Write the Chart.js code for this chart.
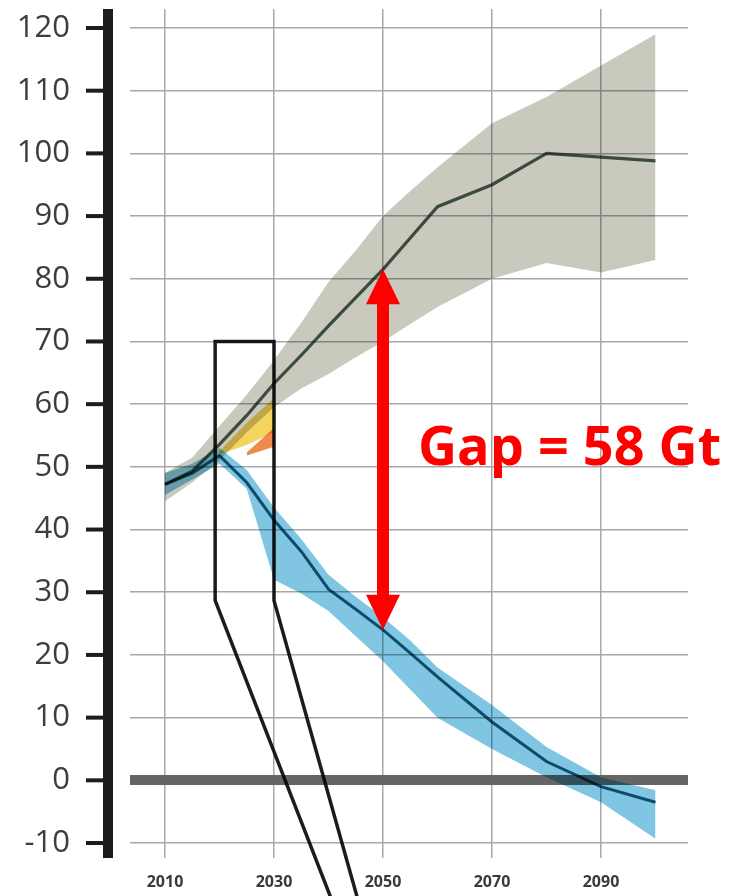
<!DOCTYPE html>
<html>
<head>
<meta charset="utf-8">
<script src="https://cdn.jsdelivr.net/npm/chart.js@4.4.1/dist/chart.umd.min.js"></script>
<style>
  html, body { margin: 0; padding: 0; background: #fff; }
  canvas { display: block; }
</style>
</head>
<body>
<canvas id="gapChart" width="731" height="896"></canvas>
<script>
// years of the scenario points
const years = [2010, 2015, 2020, 2025, 2030, 2035, 2040, 2045, 2050, 2055, 2060, 2070, 2080, 2090, 2100];
// baseline emissions (Gt): median and range
const baseMid  = [47.2, 49.3, 53.6, 58.2, 63.3, 67.8, 72.5, 77, 81.5, 86.5, 91.5, 95, 100, 99.4, 98.8];
const baseHigh = [49, 51.5, 56.5, 61.5, 67, 73, 79.5, 84.5, 90, 94, 97.8, 104.8, 109, 114, 119];
const baseLow  = [44.5, 47.5, 51, 55.5, 59.5, 62.5, 64.8, 67.5, 70, 72.8, 75.5, 80, 82.5, 81, 83];
// low emission pathway: median and range
const pathMid  = [47.2, 49, 51.8, 47.5, 41.5, 36.5, 30.5, 27.3, 24, 20.3, 16.5, 9.3, 3, -1, -3.5];
const pathHigh = [49, 50.5, 53, 49.5, 43.5, 38.5, 32.8, 29.3, 26, 22.3, 18, 12, 5.3, 0.5, -1.6];
const pathLow  = [45.5, 48, 50.5, 46.5, 32, 29.8, 27, 23, 19, 14.5, 10, 5, 0.5, -3.5, -9.3];
// pledge wedges
const pledgeYears = [2020, 2025, 2030];
const pledgeHigh = [52.5, 57, 61];
const pledgeLow  = [52, 53.5, 55.5];
const condYears = [2025, 2030];
const condHigh = [52.3, 56.2];
const condLow  = [51.8, 53.2];
// zoom box and its leader lines
const boxYears = [2019.2, 2030];
const boxRange = [28.7, 70];
const leaderEnd = [2041, 2045.7];
const leaderBottom = -20;
// gap annotation
const gapYear = 2050;
const gapLabel = 'Gap = 58 Gt';
// tick labels
const xTicks = [2010, 2030, 2050, 2070, 2090];
const yTicks = [-10, 0, 10, 20, 30, 40, 50, 60, 70, 80, 90, 100, 110, 120];

const pts = (xs, ys) => xs.map((x, i) => ({x: x, y: ys[i]}));

const boxPath = [
	{x: leaderEnd[0], y: leaderBottom},
	{x: boxYears[0], y: boxRange[0]},
	{x: boxYears[0], y: boxRange[1]},
	{x: boxYears[1], y: boxRange[1]},
	{x: boxYears[1], y: boxRange[0]},
	{x: leaderEnd[1], y: leaderBottom}
];

// bands are multiplied over the grid, like the printed figure
const multiply = {
	id: 'multiply',
	beforeDatasetsDraw(chart) {
		chart.ctx.save();
		chart.ctx.globalCompositeOperation = 'multiply';
	},
	afterDatasetsDraw(chart) {
		chart.ctx.restore();
	}
};

const overlay = {
	id: 'overlay',
	afterDraw(chart) {
		const ctx = chart.ctx;
		const a = chart.chartArea;
		const x = chart.scales.x;
		const y = chart.scales.y;
		ctx.save();
		// thick left axis with tick marks
		ctx.fillStyle = '#1d1d1d';
		ctx.fillRect(a.left - 27, a.top, 10, a.bottom - a.top);
		yTicks.forEach(v => {
			const py = y.getPixelForValue(v);
			ctx.fillRect(a.left - 44, py - 2, 18, 4);
		});
		// red double arrow between the two medians
		const i = years.indexOf(gapYear);
		const ax = x.getPixelForValue(gapYear);
		const top = y.getPixelForValue(baseMid[i]);
		const bot = y.getPixelForValue(pathMid[i]);
		const hw = 17, hh = 35, sw = 6;
		ctx.fillStyle = '#ff0000';
		ctx.beginPath();
		ctx.moveTo(ax, top);
		ctx.lineTo(ax + hw, top + hh);
		ctx.lineTo(ax + sw, top + hh);
		ctx.lineTo(ax + sw, bot - hh);
		ctx.lineTo(ax + hw, bot - hh);
		ctx.lineTo(ax, bot);
		ctx.lineTo(ax - hw, bot - hh);
		ctx.lineTo(ax - sw, bot - hh);
		ctx.lineTo(ax - sw, top + hh);
		ctx.lineTo(ax - hw, top + hh);
		ctx.closePath();
		ctx.fill();
		ctx.font = 'bold 54px "Open Sans"';
		ctx.textAlign = 'left';
		ctx.textBaseline = 'alphabetic';
		ctx.fillText(gapLabel, ax + 35, (top + bot) / 2 + 15);
		ctx.restore();
	}
};

const ctx = document.getElementById('gapChart').getContext('2d');
const gapChart = new Chart(ctx, {
	type: 'line',
	data: {
		datasets: [
			{data: pts(years, baseHigh), fill: '+1', backgroundColor: '#c9c9bd', borderWidth: 0, order: 5},
			{data: pts(years, baseLow), fill: false, borderWidth: 0, order: 5},
			{data: pts(years, pathHigh), fill: '+1', backgroundColor: '#80c6e3', borderWidth: 0, order: 4},
			{data: pts(years, pathLow), fill: false, borderWidth: 0, order: 4},
			{data: pts(pledgeYears, pledgeHigh), fill: '+1', backgroundColor: '#f4d35e', borderWidth: 0, order: 3},
			{data: pts(pledgeYears, pledgeLow), fill: false, borderWidth: 0, order: 3},
			{data: pts(condYears, condHigh), fill: '+1', backgroundColor: '#ee8a4c', borderWidth: 0, order: 2},
			{data: pts(condYears, condLow), fill: false, borderWidth: 0, order: 2},
			{data: pts(years, baseMid), fill: false, borderColor: '#4a6055', borderWidth: 3.2, order: 1},
			{data: pts(years, pathMid), fill: false, borderColor: '#17627a', borderWidth: 3, order: 1},
			{data: boxPath, fill: false, borderColor: '#1c1c1c', borderWidth: 3.5, borderJoinStyle: 'miter', clip: false, order: 0}
		]
	},
	options: {
		responsive: false,
		animation: false,
		layout: { autoPadding: false, padding: { top: 9, right: 43, left: 0, bottom: 0 } },
		elements: {
			point: { radius: 0, hoverRadius: 0 },
			line: { tension: 0 }
		},
		plugins: {
			legend: { display: false },
			tooltip: { enabled: false }
		},
		scales: {
			x: {
				type: 'linear',
				min: 2003.58,
				max: 2105.96,
				afterBuildTicks: s => { s.ticks = xTicks.map(v => ({value: v})); },
				afterFit: s => { s.height = 38; },
				border: { display: false },
				grid: { color: '#a8a8ac', lineWidth: 1.5, drawTicks: false },
				ticks: {
					autoSkip: false,
					maxRotation: 0,
					padding: 15,
					color: '#3a3a3a',
					font: { family: '"Open Sans"', size: 16, weight: 'bold' },
					callback: v => String(v)
				}
			},
			y: {
				min: -12.39,
				max: 123.03,
				afterBuildTicks: s => { s.ticks = yTicks.map(v => ({value: v})); },
				afterFit: s => { s.width = 130; s.paddingTop = 0; s.paddingBottom = 0; },
				border: { display: false },
				grid: {
					drawTicks: true,
					tickLength: 56,
					tickColor: 'rgba(0,0,0,0)',
					color: c => (c.tick && c.tick.value === 0) ? '#656565' : '#a8a8ac',
					lineWidth: c => (c.tick && c.tick.value === 0) ? 10 : 1.5
				},
				ticks: {
					padding: 4,
					color: '#3d3d3d',
					font: { family: '"Open Sans"', size: 31, lineHeight: 0.4 },
					callback: v => String(v)
				}
			}
		}
	},
	plugins: [multiply, overlay]
});
</script>
</body>
</html>
